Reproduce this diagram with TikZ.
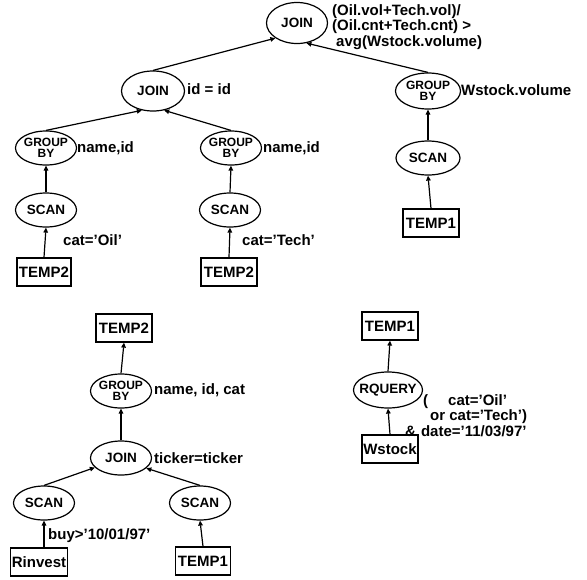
\documentclass[tikz,border=0pt]{standalone}
\usepackage{fontspec}
\setmainfont{Liberation Sans}
\usetikzlibrary{shapes.geometric,arrows.meta}
\begin{document}
\begin{tikzpicture}[x=1pt,y=-1pt,
  op/.style={ellipse,draw,line width=1.2pt,minimum width=61pt,minimum height=34pt,inner sep=0pt,
    font=\fontsize{13.5}{13.5}\selectfont\bfseries},
  gbnode/.style={op,align=center,font=\fontsize{12}{11.5}\selectfont\bfseries},
  rel/.style={rectangle,draw,line width=1.2pt,minimum width=56pt,minimum height=28pt,inner sep=0pt,
    font=\fontsize{15}{15}\selectfont\bfseries},
  lab/.style={anchor=west,inner sep=0pt,align=left,font=\fontsize{15}{15.5}\selectfont\bfseries},
  edge/.style={line width=1.2pt,-{Triangle[length=5pt,width=4.5pt]}}]
\useasboundingbox (0,0) rectangle (587,579);

% ---------- top tree ----------
\node[op,minimum width=61pt,minimum height=41pt] (topjoin) at (297,23) {\makebox[0pt]{JOIN}};
\node[op,minimum width=63pt,minimum height=40pt] (midjoin) at (153,91) {\makebox[0pt]{JOIN}};
\node[gbnode,minimum width=65pt,minimum height=36pt] (gbR) at (428,91) {\makebox[0pt]{GROUP}\\\makebox[0pt]{BY}};
\node[op,minimum width=64pt] (scanR) at (428,158) {\makebox[0pt]{SCAN}};
\node[rel] (temp1R) at (431,223) {TEMP1};

\node[gbnode] (gbL) at (46,148) {\makebox[0pt]{GROUP}\\\makebox[0pt]{BY}};
\node[op] (scanL) at (46,210) {\makebox[0pt]{SCAN}};
\node[rel,minimum width=54pt] (temp2L) at (44,272) {TEMP2};

\node[gbnode] (gbM) at (231,148) {\makebox[0pt]{GROUP}\\\makebox[0pt]{BY}};
\node[op] (scanM) at (230,210) {\makebox[0pt]{SCAN}};
\node[rel] (temp2M) at (229,272) {TEMP2};

\node[lab,anchor=north west] (ltop) at (332,4) {(Oil.vol+Tech.vol)/\\(Oil.cnt+Tech.cnt) >\\\hspace{4pt}avg(Wstock.volume)};
\node[lab] (lmid) at (187,89) {id = id};
\node[lab] (lgbR) at (461,90) {Wstock.volume};
\node[lab] (lgbL) at (77,148) {name,id};
\node[lab] (lgbM) at (263,148) {name,id};
\node[lab] (lscanL) at (63,240) {cat='Oil'};
\node[lab] (lscanM) at (242,240) {cat='Tech'};

\draw[edge] (midjoin.north) -- (topjoin.215);
\draw[edge] (gbR.north) -- (topjoin.295);
\draw[edge] (gbL.north) -- (midjoin.240);
\draw[edge] (gbM.north) -- (midjoin.300);
\draw[edge] (scanL.north) -- (gbL.south);
\draw[edge] (temp2L.north) -- (scanL.south);
\draw[edge] (scanM.north) -- (gbM.south);
\draw[edge] (temp2M.north) -- (scanM.south);
\draw[edge] (scanR.north) -- (gbR.south);
\draw[edge] (temp1R.north) -- (scanR.south);

% ---------- bottom-left tree ----------
\node[rel] (temp2B) at (124,328) {TEMP2};
\node[gbnode] (gbB) at (121,391) {\makebox[0pt]{GROUP}\\\makebox[0pt]{BY}};
\node[op] (joinB) at (121,458) {\makebox[0pt]{JOIN}};
\node[op] (scanBL) at (44,503) {\makebox[0pt]{SCAN}};
\node[rel,minimum width=57pt] (rinvest) at (39,562) {Rinvest};
\node[op] (scanBR) at (200,503) {\makebox[0pt]{SCAN}};
\node[rel,minimum width=55pt] (temp1B) at (203,561) {TEMP1};

\node[lab] (lgbB) at (154,390) {name, id, cat};
\node[lab] (ljoinB) at (154,458) {ticker=ticker};
\node[lab] (lscanBL) at (48,536) {buy>'10/01/97'};

\draw[edge] (gbB.north) -- (temp2B.south);
\draw[edge] (joinB.north) -- (gbB.south);
\draw[edge] (scanBL.north) -- (joinB.200);
\draw[edge] (scanBR.north) -- (joinB.338);
\draw[edge] (rinvest.north -| scanBL) -- (scanBL.south);
\draw[edge] (temp1B.north) -- (scanBR.south);

% ---------- bottom-right tree ----------
\node[rel] (temp1C) at (390,326) {TEMP1};
\node[op,minimum width=69pt,minimum height=36pt] (rquery) at (388,390) {\makebox[0pt]{RQUERY}};
\node[rel] (wstock) at (390,449) {Wstock};
\node[lab,anchor=north west] (lrq) at (405,394) {\hspace{18pt}(\hspace{20pt}cat='Oil'\\\hspace{25pt}or cat='Tech')\\\&\hspace{5pt}date='11/03/97'};

\draw[edge] (rquery.north) -- (temp1C.south);
\draw[edge] (wstock.north) -- (rquery.south);
\end{tikzpicture}
\end{document}
